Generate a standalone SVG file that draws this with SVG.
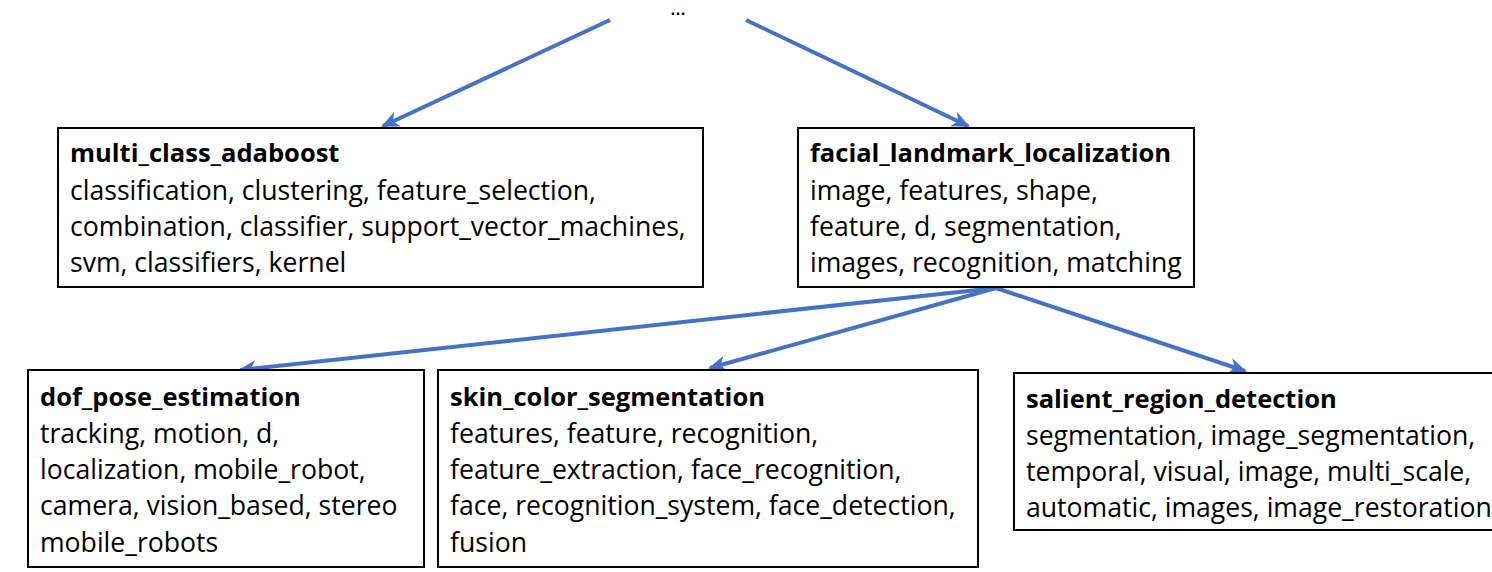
<svg xmlns="http://www.w3.org/2000/svg" width="1492" height="572" viewBox="0 0 1492 572">
<style>
.box{fill:#fff;stroke:#000;stroke-width:2}
.t{font-family:"Open Sans","Liberation Sans",sans-serif;font-size:26.6px;fill:#000}
.b{font-weight:bold;font-size:25.5px}
.c{stroke:#4472C4;stroke-width:4;fill:none;marker-end:url(#ah)}
</style>
<defs>
<marker id="ah" markerUnits="userSpaceOnUse" markerWidth="18" markerHeight="16" refX="16" refY="8" orient="auto">
<path d="M0,0 L18,8 L0,16 L5,8 Z" fill="#4472C4"/>
</marker>
</defs>
<text x="678" y="15" text-anchor="middle" style="font-family:'Liberation Sans',sans-serif;font-size:16px;font-weight:bold">…</text>
<g id="connectors">
<line class="c" x1="610" y1="20" x2="383" y2="126"/>
<line class="c" x1="746" y1="20" x2="968" y2="126"/>
<line class="c" x1="996" y1="288" x2="240" y2="370"/>
<line class="c" x1="996" y1="288" x2="710" y2="368"/>
<line class="c" x1="996" y1="288" x2="1245" y2="371"/>
</g>
<g id="multi_class_adaboost">
<rect class="box" x="58" y="128" width="645" height="159"/>
<text class="t b" x="70" y="162">multi_class_adaboost</text>
<text class="t" x="70" y="200">classification, clustering, feature_selection,</text>
<text class="t" x="70" y="236">combination, classifier, support_vector_machines,</text>
<text class="t" x="70" y="272">svm, classifiers, kernel</text>
</g>
<g id="facial_landmark_localization">
<rect class="box" x="798" y="128" width="396" height="159"/>
<text class="t b" x="810" y="162">facial_landmark_localization</text>
<text class="t" x="810" y="200">image, features, shape,</text>
<text class="t" x="810" y="236">feature, d, segmentation,</text>
<text class="t" x="810" y="272">images, recognition, matching</text>
</g>
<g id="dof_pose_estimation">
<rect class="box" x="28" y="370" width="396" height="197"/>
<text class="t b" x="40" y="406">dof_pose_estimation</text>
<text class="t" x="40" y="443">tracking, motion, d,</text>
<text class="t" x="40" y="479">localization, mobile_robot,</text>
<text class="t" x="40" y="515">camera, vision_based, stereo</text>
<text class="t" x="40" y="552">mobile_robots</text>
</g>
<g id="skin_color_segmentation">
<rect class="box" x="438" y="370" width="540" height="197"/>
<text class="t b" x="450" y="406">skin_color_segmentation</text>
<text class="t" x="450" y="443">features, feature, recognition,</text>
<text class="t" x="450" y="479">feature_extraction, face_recognition,</text>
<text class="t" x="450" y="515">face, recognition_system, face_detection,</text>
<text class="t" x="450" y="552">fusion</text>
</g>
<g id="salient_region_detection">
<rect class="box" x="1014" y="373" width="490" height="157"/>
<text class="t b" x="1026" y="408">salient_region_detection</text>
<text class="t" x="1026" y="445">segmentation, image_segmentation,</text>
<text class="t" x="1026" y="481">temporal, visual, image, multi_scale,</text>
<text class="t" x="1026" y="517">automatic, images, image_restoration</text>
</g>
</svg>
